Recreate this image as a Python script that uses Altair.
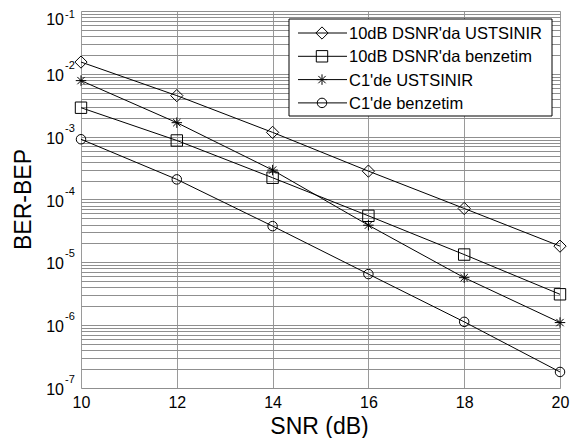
import altair as alt
import pandas as pd

# ---- data ----
snr = [10, 12, 14, 16, 18, 20]
ust_10db = [1.54e-2, 4.5e-3, 1.17e-3, 2.83e-4, 7.2e-5, 1.81e-5]
sim_10db = [2.89e-3, 8.7e-4, 2.22e-4, 5.5e-5, 1.33e-5, 3.1e-6]
ust_c1 = [7.8e-3, 1.67e-3, 2.94e-4, 3.9e-5, 5.7e-6, 1.1e-6]
sim_c1 = [9.1e-4, 2.09e-4, 3.77e-5, 6.5e-6, 1.13e-6, 1.8e-7]

names = ["10dB DSNR'da USTSINIR", "10dB DSNR'da benzetim", "C1'de USTSINIR", "C1'de benzetim"]
series_vals = [ust_10db, sim_10db, ust_c1, sim_c1]

x_ticks = [10, 12, 14, 16, 18, 20]
decade_vals = [1e-1, 1e-2, 1e-3, 1e-4, 1e-5, 1e-6, 1e-7]
decade_exps = ["-1", "-2", "-3", "-4", "-5", "-6", "-7"]
grid_vals = [m * 10.0 ** k for k in range(-7, -1) for m in range(1, 10)] + [1e-1]

asterisk = "M-1,0L1,0M0,-1L0,1M-0.7,-0.7L0.7,0.7M-0.7,0.7L0.7,-0.7"
shapes = ["diamond", "square", asterisk, "circle"]
sizes = [150, 90, 130, 130]

rows = []
for n, vals in zip(names, series_vals):
    for xv, yv in zip(snr, vals):
        rows.append({"snr": xv, "ber": yv, "series": n})
df = pd.DataFrame(rows)

legend_df = pd.DataFrame({"series": names, "idx": list(range(len(names)))})
labels_df = pd.DataFrame({"val": decade_vals, "exp": decade_exps, "base": ["10"] * len(decade_vals)})
one = pd.DataFrame({"a": [0]})

FONT = "Liberation Sans"
W, H = 479, 377

xscale = alt.Scale(domain=[10, 20], nice=False, zero=False)
yscale = alt.Scale(type="log", domain=[1e-7, 1e-1], nice=False)
shape_scale = alt.Scale(domain=names, range=shapes)
size_scale = alt.Scale(domain=names, range=sizes)

x_enc = alt.X("snr:Q", scale=xscale,
              axis=alt.Axis(values=x_ticks, grid=True, gridColor="#9a9a9a", gridWidth=1,
                            ticks=False, domain=False, title=None, labelFontSize=16,
                            labelColor="black", labelFont=FONT, labelPadding=6, format="d",
                            labelFlush=False, labelOverlap=False))
y_enc = alt.Y("ber:Q", scale=yscale,
              axis=alt.Axis(values=grid_vals, grid=True, gridColor="#8f8f8f", gridWidth=1,
                            labels=False, ticks=False, domain=False, title=None))

lines = alt.Chart(df).mark_line(color="black", strokeWidth=1).encode(
    x=x_enc, y=y_enc, detail="series:N", order="snr:Q")

points = alt.Chart(df).mark_point(filled=False, color="black", strokeWidth=1, opacity=1).encode(
    x=alt.X("snr:Q", scale=xscale),
    y=alt.Y("ber:Q", scale=yscale),
    shape=alt.Shape("series:N", scale=shape_scale, legend=None),
    size=alt.Size("series:N", scale=size_scale, legend=None),
)

# legend box
leg_box = alt.Chart(one).mark_rect(fill="white", stroke="black", strokeWidth=1).encode(
    x=alt.value(208), x2=alt.value(471), y=alt.value(8), y2=alt.value(105))
leg_base = alt.Chart(legend_df).transform_calculate(py="22 + 23.3 * datum.idx")
leg_lines = leg_base.mark_rule(color="black", strokeWidth=1).encode(
    x=alt.value(217), x2=alt.value(266), y=alt.Y("py:Q", scale=None, axis=None))
leg_pts = leg_base.mark_point(filled=False, color="black", strokeWidth=1, opacity=1).encode(
    x=alt.value(241), y=alt.Y("py:Q", scale=None, axis=None),
    shape=alt.Shape("series:N", scale=shape_scale, legend=None),
    size=alt.Size("series:N", scale=size_scale, legend=None))
leg_txt = leg_base.mark_text(align="left", baseline="middle", font=FONT, fontSize=16.5,
                             color="black", dy=1).encode(
    x=alt.value(268), y=alt.Y("py:Q", scale=None, axis=None), text="series:N")

# y tick labels 10^k (the top one nudged down so it stays inside the page)
lab = alt.Chart(labels_df)
ylab_base = lab.transform_filter("datum.val < 0.05").mark_text(
    align="right", baseline="middle", font=FONT, fontSize=16, color="black", dy=2).encode(
    x=alt.value(-17), y=alt.Y("val:Q", scale=yscale), text="base:N")
ylab_exp = lab.transform_filter("datum.val < 0.05").mark_text(
    align="left", baseline="middle", font=FONT, fontSize=11, color="black", dy=-8).encode(
    x=alt.value(-16), y=alt.Y("val:Q", scale=yscale), text="exp:N")
ylab_base_top = lab.transform_filter("datum.val > 0.05").mark_text(
    align="right", baseline="middle", font=FONT, fontSize=16, color="black", dy=9).encode(
    x=alt.value(-17), y=alt.Y("val:Q", scale=yscale), text="base:N")
ylab_exp_top = lab.transform_filter("datum.val > 0.05").mark_text(
    align="left", baseline="middle", font=FONT, fontSize=11, color="black", dy=4).encode(
    x=alt.value(-16), y=alt.Y("val:Q", scale=yscale), text="exp:N")

# axis titles
xtitle = alt.Chart(one).mark_text(align="center", baseline="alphabetic", font=FONT,
                                  fontSize=23, color="black", text="SNR (dB)").encode(
    x=alt.value(W / 2 - 1), y=alt.value(423))
ytitle = alt.Chart(one).mark_text(align="center", baseline="middle", font=FONT, angle=270,
                                  fontSize=23, color="black", text="BER-BEP").encode(
    x=alt.value(-57), y=alt.value(H / 2))

chart = alt.layer(
    lines, points, leg_box, leg_lines, leg_pts, leg_txt,
    ylab_base, ylab_exp, ylab_base_top, ylab_exp_top, xtitle, ytitle
).properties(
    width=W, height=H,
    autosize=alt.AutoSizeParams(type="none"),
    padding={"left": 73, "top": 3, "right": 10, "bottom": 50},
).configure_view(
    stroke="black", strokeWidth=1
).configure(font=FONT, background="white")

chart.save("out.html", embed_options={"renderer": "svg", "actions": False})
